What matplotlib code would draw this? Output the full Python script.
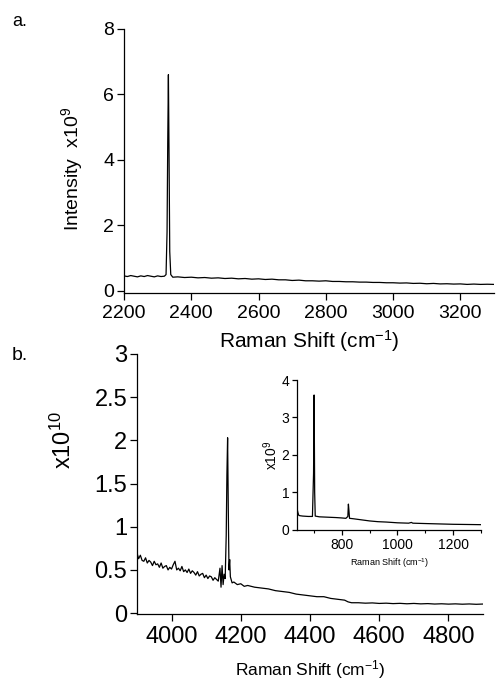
import numpy as np
import matplotlib
matplotlib.use('Agg')
import matplotlib.pyplot as plt
from matplotlib.ticker import MultipleLocator, FormatStrFormatter

plt.rcParams['font.family'] = ['Liberation Sans', 'DejaVu Sans']
plt.rcParams['mathtext.default'] = 'regular'

# panel a spectrum
a_shift = [2200, 2210, 2220, 2230, 2240, 2250, 2260, 2270, 2280, 2290, 2300, 2310, 2320,
           2325, 2328, 2330, 2332, 2334, 2336, 2339, 2345,
           2360, 2380, 2400, 2420, 2440, 2460, 2480, 2500, 2520, 2540, 2560, 2580, 2600,
           2620, 2640, 2660, 2680, 2700, 2720, 2740, 2760, 2780, 2800, 2820, 2840, 2860,
           2880, 2900, 2920, 2940, 2960, 2980, 3000, 3020, 3040, 3060, 3080, 3100, 3120,
           3140, 3160, 3180, 3200, 3220, 3240, 3260, 3280, 3300]
a_int = [0.46, 0.44, 0.47, 0.45, 0.43, 0.46, 0.44, 0.47, 0.45, 0.43, 0.46, 0.44, 0.45,
         0.50, 1.8, 4.5, 6.6, 4.0, 1.2, 0.50, 0.42,
         0.43, 0.41, 0.42, 0.40, 0.41, 0.39, 0.40, 0.38, 0.39, 0.37, 0.38, 0.36, 0.37,
         0.35, 0.36, 0.34, 0.34, 0.32, 0.33, 0.31, 0.31, 0.30, 0.31, 0.29, 0.29, 0.28,
         0.28, 0.27, 0.27, 0.26, 0.26, 0.25, 0.25, 0.24, 0.245, 0.23, 0.235, 0.22, 0.23,
         0.215, 0.22, 0.21, 0.215, 0.20, 0.21, 0.20, 0.205, 0.20]

# panel b spectrum
b_shift = [3900, 3905, 3910, 3915, 3920, 3925, 3930, 3935, 3940, 3945, 3950, 3955, 3960,
           3965, 3970, 3975, 3980, 3985, 3990, 3995, 4000, 4005, 4010, 4015, 4020, 4025,
           4030, 4035, 4040, 4045, 4050, 4055, 4060, 4065, 4070, 4075, 4080, 4085, 4090,
           4095, 4100, 4105, 4110, 4115, 4120, 4125, 4130, 4135, 4140, 4143, 4146, 4149,
           4152, 4155, 4158, 4160, 4162, 4164, 4166, 4168, 4170, 4175, 4180, 4190, 4200,
           4210, 4220, 4240, 4260, 4280, 4300, 4320, 4340, 4360, 4380, 4400, 4420, 4440,
           4460, 4480, 4500, 4510, 4520, 4540, 4560, 4580, 4600, 4620, 4640, 4660, 4680,
           4700, 4720, 4740, 4760, 4780, 4800, 4820, 4840, 4860, 4880, 4900]
b_int = [0.70, 0.63, 0.67, 0.61, 0.60, 0.64, 0.58, 0.61, 0.59, 0.55,
         0.60, 0.56, 0.57, 0.53, 0.58, 0.52, 0.54, 0.55, 0.50, 0.53,
         0.51, 0.56, 0.60, 0.50, 0.52, 0.49, 0.54, 0.48, 0.50, 0.47,
         0.51, 0.46, 0.49, 0.47, 0.44, 0.48, 0.43, 0.45, 0.46, 0.41,
         0.44, 0.40, 0.43, 0.42, 0.38, 0.41, 0.39, 0.37, 0.52, 0.30, 0.55, 0.33,
         0.45, 0.40, 0.90, 1.60, 2.03, 1.20, 0.50, 0.62, 0.42, 0.35, 0.36, 0.33, 0.34,
         0.31, 0.32, 0.30, 0.29, 0.28, 0.26, 0.25, 0.24, 0.22, 0.21, 0.20, 0.19, 0.19,
         0.17, 0.16, 0.15, 0.13, 0.12, 0.12, 0.115, 0.118, 0.112, 0.115, 0.11, 0.113, 0.108,
         0.112, 0.107, 0.11, 0.105, 0.108, 0.104, 0.107, 0.103, 0.106, 0.102, 0.105]

# inset spectrum
c_shift = [640, 643, 646, 650, 660, 680, 695, 699, 701, 703, 705, 720, 750, 780, 800,
           815, 822, 824, 826, 828, 840, 860, 880, 900, 930, 960, 1000, 1040, 1050, 1055,
           1100, 1150, 1200, 1250, 1300]
c_int = [0.55, 0.45, 0.38, 0.37, 0.36, 0.35, 0.35, 1.5, 3.6, 1.0, 0.36, 0.34, 0.33, 0.32,
         0.31, 0.30, 0.35, 0.68, 0.50, 0.30, 0.29, 0.27, 0.25, 0.23, 0.21, 0.20, 0.18,
         0.17, 0.19, 0.17, 0.16, 0.15, 0.14, 0.135, 0.13]

fig = plt.figure(figsize=(4.96, 6.86), dpi=100)

def style(ax, size, tlen):
	for s in ['top', 'right']:
		ax.spines[s].set_visible(False)
	for s in ['left', 'bottom']:
		ax.spines[s].set_linewidth(0.9)
	ax.tick_params(direction='out', length=tlen, width=0.9, labelsize=size, pad=2)
	ax.tick_params(which='minor', direction='out', length=tlen * 0.6, width=0.8)

# a.
ax1 = fig.add_axes([0.25, 0.573, 0.746, 0.385])
ax1.plot(a_shift, a_int, color='black', lw=0.9)
ax1.set_xlim(2200, 3300)
ax1.set_ylim(-0.06, 8)
ax1.set_xticks(np.arange(2200, 3201, 200))
ax1.set_yticks(np.arange(0, 9, 2))
style(ax1, 14, 5)
ax1.tick_params(axis='x', pad=4)
ax1.set_xlabel('Raman Shift (cm$^{-1}$)', fontsize=15, labelpad=4)
ax1.set_ylabel('Intensity  x10$^{9}$', fontsize=14)
ax1.yaxis.set_label_coords(-0.105, 0.47)
fig.text(12 / 496, 1 - 26 / 686, 'a.', fontsize=13)

# b.
ax2 = fig.add_axes([0.276, 0.105, 0.698, 0.379])
ax2.plot(b_shift, b_int, color='black', lw=0.9)
ax2.set_xlim(3900, 4900)
ax2.set_ylim(-0.01, 3)
ax2.set_xticks(np.arange(4000, 4801, 200))
ax2.set_yticks(np.arange(0, 3.01, 0.5))
ax2.yaxis.set_major_formatter(FormatStrFormatter('%g'))
style(ax2, 17, 5)
ax2.tick_params(axis='x', pad=4)
ax2.set_xlabel('Raman Shift (cm$^{-1}$)', fontsize=12.5, labelpad=7)
ax2.set_ylabel('x10$^{10}$', fontsize=17)
ax2.yaxis.set_label_coords(-0.175, 0.67)
fig.text(12 / 496, 1 - 360 / 686, 'b.', fontsize=14)

# inset
ax3 = fig.add_axes([0.599, 0.227, 0.371, 0.219])
ax3.plot(c_shift, c_int, color='black', lw=0.9)
ax3.set_xlim(640, 1300)
ax3.set_ylim(-0.02, 4)
ax3.set_xticks([800, 1000, 1200])
ax3.xaxis.set_minor_locator(MultipleLocator(100))
ax3.set_yticks([0, 1, 2, 3, 4])
style(ax3, 10, 3.5)
ax3.set_xlabel('Raman Shift (cm$^{-1}$)', fontsize=6.5, labelpad=3)
ax3.set_ylabel('x10$^{9}$', fontsize=10, labelpad=1)

fig.savefig('out.png', dpi=100)
